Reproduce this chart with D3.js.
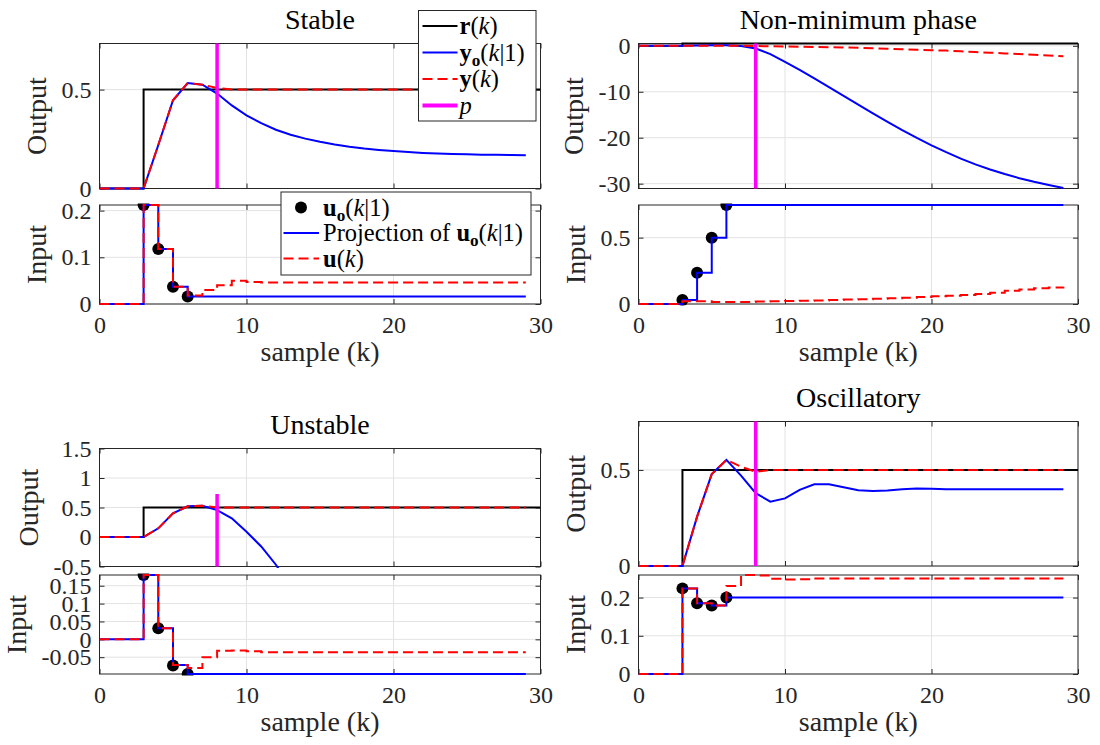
<!DOCTYPE html>
<html>
<head>
<meta charset="utf-8">
<script src="https://cdn.jsdelivr.net/npm/d3@7"></script>
<style>
  body { margin: 0; background: #fff; }
  svg text { font-family: "Liberation Serif", "Times New Roman", serif; white-space: pre; }
</style>
</head>
<body>
<div class="chart"></div>
<script>
// ---- data ----
const samples = [0, 1, 2, 3, 4, 5, 6, 7, 8, 9, 10, 11, 12, 13, 14, 15, 16, 17, 18, 19,
  20, 21, 22, 23, 24, 25, 26, 27, 28, 29];
const refSamples = [0, 1, 2, 3, 4, 5, 6, 7, 8, 9, 10, 11, 12, 13, 14, 15, 16, 17, 18, 19,
  20, 21, 22, 23, 24, 25, 26, 27, 28, 29, 30];
const optSamples = [3, 4, 5, 6];
const pSample = 8;

// reference r(k), same for every case
const reference = [0, 0, 0,
  0.5, 0.5, 0.5, 0.5, 0.5, 0.5, 0.5,
  0.5, 0.5, 0.5, 0.5, 0.5, 0.5, 0.5,
  0.5, 0.5, 0.5, 0.5, 0.5, 0.5, 0.5,
  0.5, 0.5, 0.5, 0.5, 0.5, 0.5, 0.5];

// Stable
const stableYo = [0, 0, 0, 0,
  0.22, 0.446, 0.533, 0.525, 0.48, 0.42,
  0.37, 0.33, 0.297, 0.272, 0.252, 0.236, 0.222, 0.211, 0.202, 0.195,
  0.189, 0.184, 0.18, 0.177, 0.175, 0.173, 0.171, 0.17, 0.169, 0.168];
const stableY = [0, 0, 0, 0,
  0.22, 0.446, 0.533, 0.525, 0.508, 0.5,
  0.5, 0.5, 0.5, 0.5, 0.5, 0.5, 0.5, 0.5, 0.5, 0.5,
  0.5, 0.5, 0.5, 0.5, 0.5, 0.5, 0.5, 0.5, 0.5, 0.5];
const stableOpt = [0.212, 0.118, 0.037, 0.016];
const stableProj = [0, 0, 0,
  0.212, 0.118, 0.037,
  0.016, 0.016, 0.016, 0.016,
  0.016, 0.016, 0.016, 0.016, 0.016, 0.016, 0.016, 0.016, 0.016, 0.016,
  0.016, 0.016, 0.016, 0.016, 0.016, 0.016, 0.016, 0.016, 0.016, 0.016];
const stableU = [0, 0, 0,
  0.212, 0.118, 0.037,
  0.018, 0.03, 0.04, 0.05,
  0.047, 0.046, 0.046, 0.046, 0.046, 0.046, 0.046, 0.046, 0.046, 0.046,
  0.046, 0.046, 0.046, 0.046, 0.046, 0.046, 0.046, 0.046, 0.046, 0.046];

// Non-minimum phase
const nonminYo = [0, 0, 0, 0,
  0.05, 0.1, 0.1, -0.05, -0.6, -1.8,
  -3.5, -5.25, -7.1, -9.0, -10.9, -12.8, -14.7, -16.55, -18.35, -20.05,
  -21.65, -23.15, -24.55, -25.8, -26.9, -27.9, -28.8, -29.6, -30.3, -30.95];
const nonminY = [0, 0, 0, 0,
  0, 0, 0, 0, -0.05, -0.1,
  -0.15, -0.2, -0.25, -0.3, -0.35, -0.45, -0.55, -0.65, -0.75, -0.85,
  -0.95, -1.05, -1.2, -1.35, -1.5, -1.65, -1.8, -1.95, -2.1, -2.25];
const nonminOpt = [0.03, 0.236, 0.5, 0.746];
const nonminProj = [0, 0, 0,
  0.03, 0.236, 0.5,
  0.746, 0.746, 0.746, 0.746,
  0.746, 0.746, 0.746, 0.746, 0.746, 0.746, 0.746, 0.746, 0.746, 0.746,
  0.746, 0.746, 0.746, 0.746, 0.746, 0.746, 0.746, 0.746, 0.746, 0.746];
const nonminU = [0, 0, 0,
  0.02, 0.02, 0.015,
  0.015, 0.015, 0.018, 0.02,
  0.022, 0.025, 0.027, 0.03, 0.033, 0.036, 0.04, 0.044, 0.048, 0.053,
  0.058, 0.063, 0.068, 0.075, 0.085, 0.1, 0.11, 0.118, 0.125, 0.13];

// Unstable (prediction leaves the plot after k = 12)
const unstableYo = [0, 0, 0, 0,
  0.147, 0.4, 0.52, 0.53, 0.456, 0.316,
  0.09, -0.16, -0.47, -0.85];
const unstableY = [0, 0, 0, 0,
  0.147, 0.4, 0.52, 0.53, 0.5, 0.5,
  0.5, 0.5, 0.5, 0.5, 0.5, 0.5, 0.5, 0.5, 0.5, 0.5,
  0.5, 0.5, 0.5, 0.5, 0.5, 0.5, 0.5, 0.5, 0.5, 0.5];
const unstableOpt = [0.18, 0.031, -0.073, -0.097];
const unstableProj = [0, 0, 0,
  0.18, 0.031, -0.072,
  -0.097, -0.097, -0.097, -0.097,
  -0.097, -0.097, -0.097, -0.097, -0.097, -0.097, -0.097, -0.097, -0.097, -0.097,
  -0.097, -0.097, -0.097, -0.097, -0.097, -0.097, -0.097, -0.097, -0.097, -0.097];
const unstableU = [0, 0, 0,
  0.18, 0.031, -0.072,
  -0.08, -0.05, -0.032, -0.031,
  -0.033, -0.036, -0.036, -0.036, -0.036, -0.036, -0.036, -0.036, -0.036, -0.036,
  -0.036, -0.036, -0.036, -0.036, -0.036, -0.036, -0.036, -0.036, -0.036, -0.036];

// Oscillatory
const oscYo = [0, 0, 0, 0,
  0.257, 0.478, 0.552, 0.47, 0.379, 0.335,
  0.352, 0.396, 0.425, 0.425, 0.41, 0.394, 0.39, 0.393, 0.4, 0.403,
  0.402, 0.4, 0.399, 0.399, 0.399, 0.4, 0.4, 0.4, 0.4, 0.4];
const oscY = [0, 0, 0, 0,
  0.257, 0.478, 0.552, 0.517, 0.49, 0.5,
  0.5, 0.5, 0.5, 0.5, 0.5, 0.5, 0.5, 0.5, 0.5, 0.5,
  0.5, 0.5, 0.5, 0.5, 0.5, 0.5, 0.5, 0.5, 0.5, 0.5];
const oscOpt = [0.224, 0.185, 0.179, 0.2];
const oscProj = [0, 0, 0,
  0.224, 0.185, 0.179,
  0.2, 0.2, 0.2, 0.2,
  0.2, 0.2, 0.2, 0.2, 0.2, 0.2, 0.2, 0.2, 0.2, 0.2,
  0.2, 0.2, 0.2, 0.2, 0.2, 0.2, 0.2, 0.2, 0.2, 0.2];
const oscU = [0, 0, 0,
  0.224, 0.185, 0.179,
  0.23, 0.259, 0.258, 0.249,
  0.247, 0.248, 0.25, 0.25, 0.25, 0.25, 0.25, 0.25, 0.25, 0.25,
  0.25, 0.25, 0.25, 0.25, 0.25, 0.25, 0.25, 0.25, 0.25, 0.25];

// axis limits, ticks and labels
const titles = ["Stable", "Non-minimum phase", "Unstable", "Oscillatory"];
const xTicks = [0, 10, 20, 30];
const xTickLabels = ["0", "10", "20", "30"];
const outLimits = [[0, 0.733], [-31.05, 0.5], [-0.5, 1.5], [0, 0.752]];
const inLimits = [[0, 0.212], [0, 0.746], [-0.097, 0.18], [0, 0.259]];
const pRanges = [[0, 0.733], [-31.05, 0.5], [-0.5, 0.73], [0, 0.752]];
const outTicks = [[0, 0.5], [-30, -20, -10, 0], [-0.5, 0, 0.5, 1, 1.5], [0, 0.5]];
const outTickLabels = [["0", "0.5"], ["-30", "-20", "-10", "0"], ["-0.5", "0", "0.5", "1", "1.5"], ["0", "0.5"]];
const inTicks = [[0, 0.1, 0.2], [0, 0.5], [-0.05, 0, 0.05, 0.1, 0.15], [0, 0.1, 0.2]];
const inTickLabels = [["0", "0.1", "0.2"], ["0", "0.5"], ["-0.05", "0", "0.05", "0.1", "0.15"], ["0", "0.1", "0.2"]];

const outLegend = [
  [{ t: "r", b: 1 }, { t: "(" }, { t: "k", i: 1 }, { t: ")" }],
  [{ t: "y", b: 1 }, { t: "o", b: 1, sub: 1 }, { t: "(", up: 1 }, { t: "k", i: 1 }, { t: "|1)" }],
  [{ t: "y", b: 1 }, { t: "(" }, { t: "k", i: 1 }, { t: ")" }],
  [{ t: "p", i: 1 }]
];
const inLegend = [
  [{ t: "u", b: 1 }, { t: "o", b: 1, sub: 1 }, { t: "(", up: 1 }, { t: "k", i: 1 }, { t: "|1)" }],
  [{ t: "Projection of " }, { t: "u", b: 1 }, { t: "o", b: 1, sub: 1 }, { t: "(", up: 1 }, { t: "k", i: 1 }, { t: "|1)" }],
  [{ t: "u", b: 1 }, { t: "(" }, { t: "k", i: 1 }, { t: ")" }]
];

const series = [
  { yo: stableYo, y: stableY, opt: stableOpt, proj: stableProj, u: stableU },
  { yo: nonminYo, y: nonminY, opt: nonminOpt, proj: nonminProj, u: nonminU },
  { yo: unstableYo, y: unstableY, opt: unstableOpt, proj: unstableProj, u: unstableU },
  { yo: oscYo, y: oscY, opt: oscOpt, proj: oscProj, u: oscU }
];

// ---- layout ----
const layout = [
  { left: 99.5, right: 540.5, outTop: 43.5, outBottom: 188.5, inTop: 205, inBottom: 304 },
  { left: 638.5, right: 1078, outTop: 43.5, outBottom: 188.5, inTop: 205, inBottom: 304 },
  { left: 99.5, right: 540.5, outTop: 448.5, outBottom: 566.5, inTop: 575, inBottom: 674 },
  { left: 638.5, right: 1078, outTop: 421.5, outBottom: 566, inTop: 575, inBottom: 674 }
];

const AX = "#262626";
const TICK_FS = 24, LABEL_FS = 28, TITLE_FS = 28, LEG_FS = 24.5;
const BLUE = "#0000ff", RED = "#ff0000", MAGENTA = "#ff00ff";
let clipCount = 0;

const svg = d3.select(".chart").append("svg")
  .attr("width", 1100).attr("height", 745)
  .style("background", "#fff");

function makeAxes(left, right, top, bottom, yDomain, yTicks, yTickLabels, showX, yLabel) {
  const x = d3.scaleLinear().domain([0, 30]).range([left, right]);
  const y = d3.scaleLinear().domain(yDomain).range([bottom, top]);
  const g = svg.append("g");

  // grid
  g.append("g").selectAll("line").data(xTicks).join("line")
    .attr("x1", d => x(d)).attr("x2", d => x(d))
    .attr("y1", top).attr("y2", bottom)
    .attr("stroke", "#e3e3e3").attr("stroke-width", 1);
  g.append("g").selectAll("line").data(yTicks).join("line")
    .attr("x1", left).attr("x2", right)
    .attr("y1", d => y(d)).attr("y2", d => y(d))
    .attr("stroke", "#e3e3e3").attr("stroke-width", 1);

  g.append("g").attr("transform", "translate(0," + bottom + ")")
    .call(d3.axisBottom(x).tickValues(xTicks).tickSize(-5).tickSizeOuter(0).tickPadding(12)
      .tickFormat((d, i) => showX ? xTickLabels[i] : ""));
  g.append("g").attr("transform", "translate(0," + top + ")")
    .call(d3.axisTop(x).tickValues(xTicks).tickSize(-5).tickSizeOuter(0).tickFormat(""));
  const yl = g.append("g").attr("transform", "translate(" + left + ",0)")
    .call(d3.axisLeft(y).tickValues(yTicks).tickSize(-5).tickSizeOuter(0).tickPadding(8)
      .tickFormat((d, i) => yTickLabels[i]));
  g.append("g").attr("transform", "translate(" + right + ",0)")
    .call(d3.axisRight(y).tickValues(yTicks).tickSize(-5).tickSizeOuter(0).tickFormat(""));

  g.selectAll(".domain").remove();
  g.selectAll(".tick line").attr("stroke", AX);
  g.selectAll("g").attr("font-family", null).attr("font-size", null);
  g.selectAll(".tick text").attr("fill", AX).attr("font-size", TICK_FS);

  g.append("rect")
    .attr("x", left).attr("y", top)
    .attr("width", right - left).attr("height", bottom - top)
    .attr("fill", "none").attr("stroke", AX).attr("stroke-width", 1);

  // y label, placed left of the widest tick label
  const maxW = d3.max(yl.selectAll("text").nodes(), n => n.getBBox().width);
  svg.append("text")
    .attr("transform", "translate(" + (left - 8 - maxW - 16) + "," + (top + bottom) / 2 + ") rotate(-90)")
    .attr("text-anchor", "middle")
    .attr("font-size", LABEL_FS)
    .attr("fill", AX)
    .text(yLabel);

  const id = "clip" + (clipCount++);
  svg.append("clipPath").attr("id", id).append("rect")
    .attr("x", left).attr("y", top - 1.5)
    .attr("width", right - left).attr("height", bottom - top + 3);
  const plot = svg.append("g").attr("clip-path", "url(#" + id + ")");
  return { x: x, y: y, plot: plot };
}

function richText(sel, parts, size) {
  parts.forEach(function (p) {
    const t = sel.append("tspan").text(p.t);
    if (p.b) t.attr("font-weight", "bold");
    if (p.i) t.attr("font-style", "italic");
    if (p.sub) t.attr("font-size", size * 0.7).attr("dy", size * 0.22);
    if (p.up) t.attr("dy", -size * 0.22);
  });
}

function drawPanel(n) {
  const L = layout[n], S = series[n];

  svg.append("text")
    .attr("x", (L.left + L.right) / 2).attr("y", L.outTop - 15)
    .attr("text-anchor", "middle").attr("font-size", TITLE_FS).attr("fill", "#000")
    .text(titles[n]);

  // output axes
  const o = makeAxes(L.left, L.right, L.outTop, L.outBottom, outLimits[n],
    outTicks[n], outTickLabels[n], false, "Output");

  const stepRef = d3.line().curve(d3.curveStepAfter)
    .x((d, i) => o.x(refSamples[i])).y(d => o.y(d));
  const lineOut = d3.line().x((d, i) => o.x(samples[i])).y(d => o.y(d));

  o.plot.append("path").datum(reference).attr("d", stepRef)
    .attr("fill", "none").attr("stroke", "#000").attr("stroke-width", 2);
  o.plot.append("path").datum(S.yo).attr("d", lineOut)
    .attr("fill", "none").attr("stroke", BLUE).attr("stroke-width", 2);
  o.plot.append("path").datum(S.y).attr("d", lineOut)
    .attr("fill", "none").attr("stroke", RED).attr("stroke-width", 2)
    .attr("stroke-dasharray", "10,5");
  o.plot.append("line")
    .attr("x1", o.x(pSample)).attr("x2", o.x(pSample))
    .attr("y1", o.y(pRanges[n][0])).attr("y2", o.y(pRanges[n][1]))
    .attr("stroke", MAGENTA).attr("stroke-width", 3.5);

  // input axes
  const u = makeAxes(L.left, L.right, L.inTop, L.inBottom, inLimits[n],
    inTicks[n], inTickLabels[n], true, "Input");
  const stepIn = d3.line().curve(d3.curveStepAfter)
    .x((d, i) => u.x(samples[i])).y(d => u.y(d));

  u.plot.selectAll("circle").data(S.opt).join("circle")
    .attr("cx", (d, i) => u.x(optSamples[i])).attr("cy", d => u.y(d))
    .attr("r", 6).attr("fill", "#000");
  u.plot.append("path").datum(S.proj).attr("d", stepIn)
    .attr("fill", "none").attr("stroke", BLUE).attr("stroke-width", 2);
  u.plot.append("path").datum(S.u).attr("d", stepIn)
    .attr("fill", "none").attr("stroke", RED).attr("stroke-width", 2)
    .attr("stroke-dasharray", "10,5");

  svg.append("text")
    .attr("x", (L.left + L.right) / 2).attr("y", L.inBottom + 57)
    .attr("text-anchor", "middle").attr("font-size", LABEL_FS).attr("fill", AX)
    .text("sample (k)");
}

[0, 1, 2, 3].forEach(drawPanel);

// ---- legends (first panel only) ----
function legendBox(x, y, w, h) {
  const g = svg.append("g");
  g.append("rect").attr("x", x).attr("y", y).attr("width", w).attr("height", h)
    .attr("fill", "#fff").attr("stroke", AX).attr("stroke-width", 1);
  return g;
}

(function () {
  const bx = 418.5, by = 10.5;
  const g = legendBox(bx, by, 117.5, 110.5);
  const styles = [
    { c: "#000", w: 2, dash: null },
    { c: BLUE, w: 2, dash: null },
    { c: RED, w: 2, dash: "10,5" },
    { c: MAGENTA, w: 4, dash: null }
  ];
  outLegend.forEach(function (parts, i) {
    const cy = by + 15.5 + i * 26.5;
    g.append("line").attr("x1", bx + 4).attr("x2", bx + 39).attr("y1", cy).attr("y2", cy)
      .attr("stroke", styles[i].c).attr("stroke-width", styles[i].w)
      .attr("stroke-dasharray", styles[i].dash);
    const t = g.append("text").attr("x", bx + 41).attr("y", cy).attr("dy", "0.33em")
      .attr("font-size", LEG_FS).attr("fill", "#000");
    richText(t, parts, LEG_FS);
  });
})();

(function () {
  const bx = 281, by = 192;
  const g = legendBox(bx, by, 250, 83);
  inLegend.forEach(function (parts, i) {
    const cy = by + 15.5 + i * 25.5;
    if (i === 0) {
      g.append("circle").attr("cx", bx + 20).attr("cy", cy).attr("r", 6).attr("fill", "#000");
    } else {
      g.append("line").attr("x1", bx + 2.5).attr("x2", bx + 38).attr("y1", cy).attr("y2", cy)
        .attr("stroke", i === 1 ? BLUE : RED).attr("stroke-width", 2)
        .attr("stroke-dasharray", i === 1 ? null : "10,5");
    }
    const t = g.append("text").attr("x", bx + 42).attr("y", cy).attr("dy", "0.33em")
      .attr("font-size", LEG_FS).attr("fill", "#000");
    richText(t, parts, LEG_FS);
  });
})();
</script>
</body>
</html>
